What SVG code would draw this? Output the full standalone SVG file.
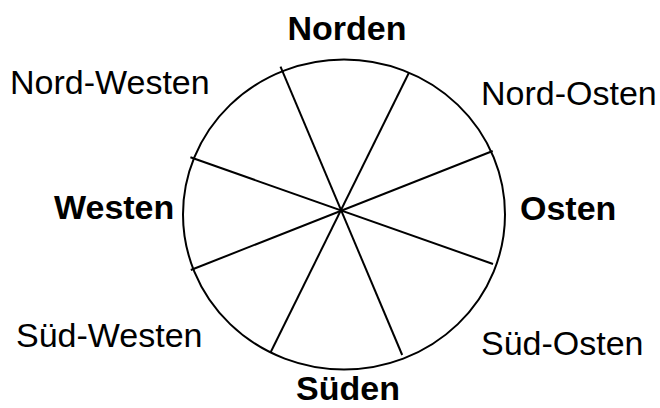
<svg xmlns="http://www.w3.org/2000/svg" width="660" height="408" viewBox="0 0 660 408">
<style>
.l{font-family:"Liberation Sans",Arial,sans-serif;font-size:34px;fill:#000}
.b{font-weight:bold}
.s{stroke:#000;stroke-width:2;fill:none}
</style>
<rect width="660" height="408" fill="#fff"/>
<g id="circle"><ellipse class="s" cx="344" cy="214.5" rx="161" ry="155"/></g>
<g id="connectors">
<line class="s" x1="280.5" y1="66.7" x2="402.2" y2="355"/>
<line class="s" x1="408.8" y1="73" x2="270.4" y2="352.7"/>
<line class="s" x1="492.7" y1="151" x2="190.8" y2="270"/>
<line class="s" x1="493" y1="264" x2="190.4" y2="157.3"/>
</g>
<g id="norden"><text class="l b" x="347" y="40" text-anchor="middle">Norden</text></g>
<g id="nordwesten"><text class="l" x="10" y="94">Nord-Westen</text></g>
<g id="nordosten"><text class="l" x="481" y="105">Nord-Osten</text></g>
<g id="westen"><text class="l b" x="54" y="219">Westen</text></g>
<g id="osten"><text class="l b" x="520" y="220">Osten</text></g>
<g id="suedwesten"><text class="l" x="16" y="347">Süd-Westen</text></g>
<g id="suedosten"><text class="l" x="481" y="355">Süd-Osten</text></g>
<g id="sueden"><text class="l b" x="348" y="400" text-anchor="middle">Süden</text></g>
</svg>
